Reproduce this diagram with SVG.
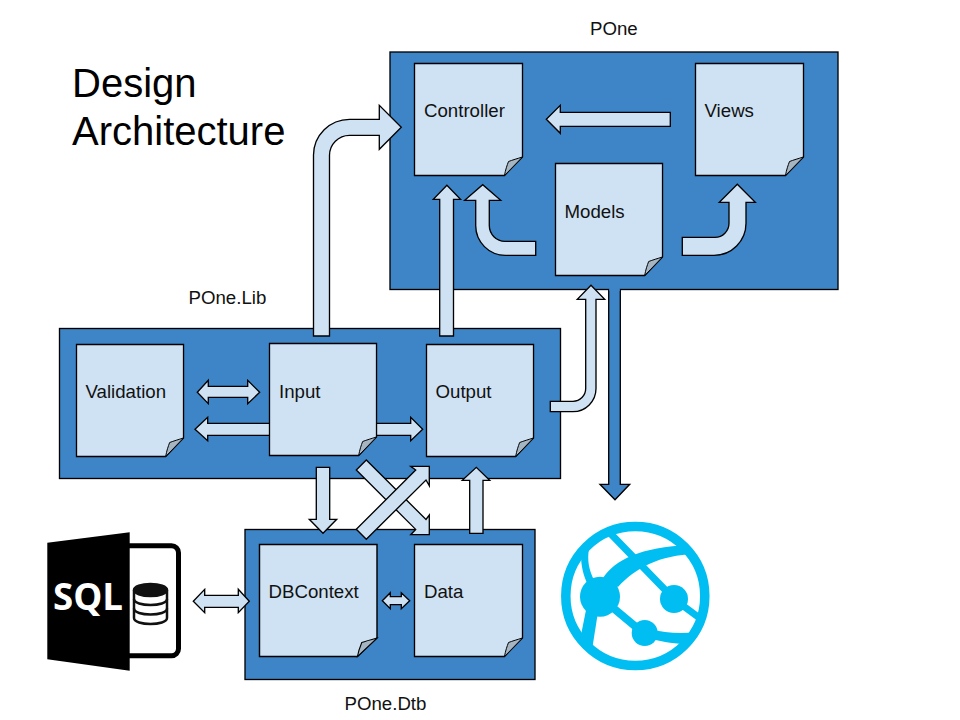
<svg xmlns="http://www.w3.org/2000/svg" width="960" height="720" viewBox="0 0 960 720">
<style>
text{font-family:"Liberation Sans",Arial,sans-serif;font-size:18.67px;fill:#111}
.title{font-size:40px;fill:#000}
.box{fill:#3d85c6;stroke:#000;stroke-width:1.33}
.doc{fill:#cfe2f3;stroke:#000;stroke-width:1.33;stroke-linejoin:miter}
.fold{fill:#a6b5c2;stroke:#000;stroke-width:1}
.arr{fill:#cfe2f3;stroke:#000;stroke-width:1.33;stroke-linejoin:miter}
.gl{fill:#00bef2;stroke:none}
.gs{fill:none;stroke:#00bef2}
</style>
<defs>
<g id="page">
<path class="doc" d="M0,0H108V93.5L90,112H0Z"/>
<path class="fold" d="M90,112C91,106 92.500,102 94,98C98,96.500 103,95 108,93.500Z"/>
</g>
<clipPath id="globeClip"><circle cx="635.300" cy="596" r="70"/></clipPath>
</defs>
<rect width="960" height="720" fill="#fff"/>
<g id="title">
<text class="title" x="72" y="97">Design</text>
<text class="title" x="72" y="145">Architecture</text>
</g>
<g id="pone-container">
<rect class="box" x="390" y="52" width="448" height="237.500"/>
<text x="590" y="35">POne</text>
</g>
<g id="polib-container">
<rect class="box" x="59.500" y="328.500" width="501" height="150"/>
<text x="188.500" y="304">POne.Lib</text>
</g>
<g id="podtb-container">
<rect class="box" x="245" y="529.500" width="290" height="150"/>
<text x="344.500" y="710">POne.Dtb</text>
</g>
<g id="connectors">
<path class="arr" d="M313.500,336V155A36,36 0 0 1 349.500,119.300H379.300V105.300L401.300,127.300L379.300,149.300V135.300H349.500A20,20 0 0 0 329.500,155.300V336Z"/>
<path class="arr" d="M439.700,336V199.300H433.300L446.900,185.300L460.500,199.300H453.500V336Z"/>
<path class="arr" d="M670.300,112.300H560.300V105.300L546.300,119.300L560.300,133.300V126.300H670.300Z"/>
<path class="arr" d="M535.700,241.300H505A15.700,15.700 0 0 1 489.300,225.600V200.300H500.700L482.700,184.700L464.700,200.300H475.700V225.600A29.700,29.700 0 0 0 505.400,255.300H535.700Z"/>
<path class="arr" d="M682.300,237.300H715A14,14 0 0 0 729,223.300V202.300H719.300L737.300,184.300L755.300,202.300H746V223.300A32,32 0 0 1 714,255.300H682.300Z"/>
<path class="arr" d="M550.300,401.300H573A12.700,12.700 0 0 0 585.700,388.600V299.300H577.300L591,285.300L604.700,299.300H596V388.600A23.100,23.100 0 0 1 572.900,411.700H550.300Z"/>
<path class="box" style="stroke-linejoin:miter" d="M608.700,289V484.300H600L615,499.700L629.700,484.300H620.300V289"/>
<path class="box" style="stroke:none" d="M609.300,287H619.700V291H609.300Z"/>
<path class="arr" d="M197.300,392.300L208.300,380.300V386.300H247.700V380.300L259.700,392.300L247.700,403.700V397.300H208.300V403.700Z"/>
<path class="arr" d="M270,423.300H207.700V417.300L195,429.300L207.700,440.700V435.300H270Z"/>
<path class="arr" d="M376,423.300H410.700V417.300L422.700,429.300L410.700,440.700V435.300H376Z"/>
<path class="arr" d="M316.300,467.300H329.700V519.300H336.700L323,533.300L309.300,519.300H316.300Z"/>
<path class="arr" d="M469.700,533.300H483V480.300H489.700L476.300,467.300L462.300,480.300H469.700Z"/>
<path class="arr" d="M356.300,470L366.300,460L426,519.500L429.300,515V534.700H410.700L415.700,529.400Z"/>
<path class="arr" d="M356.300,529.300L366.300,539.300L426,480L429.300,485.700V466.300H410.700L415.700,470Z"/>
<path class="arr" d="M193.300,601.300L204.700,589.300V595.300H238.300V589.300L249.300,601.300L238.300,612.700V607.300H204.700V612.700Z"/>
<path class="arr" d="M382.300,600.700L390.300,592.700V596.700H401.300V592.700L409.700,600.700L401.300,608.700V604.700H390.300V608.700Z"/>
</g>
<g id="controller"><use href="#page" transform="translate(414.500,63.500)"/><text x="424" y="117">Controller</text></g>
<g id="views"><use href="#page" transform="translate(695.500,63.500)"/><text x="704.500" y="117">Views</text></g>
<g id="models"><use href="#page" transform="translate(555.500,163.500) scale(.991,1)"/><text x="564.500" y="218">Models</text></g>
<g id="validation"><use href="#page" transform="translate(76.500,344.500) scale(.991,1)"/><text x="85.500" y="398">Validation</text></g>
<g id="input"><use href="#page" transform="translate(269.500,343.500) scale(.991,1)"/><text x="279" y="398">Input</text></g>
<g id="output"><use href="#page" transform="translate(426.500,344.500) scale(.991,1)"/><text x="435.500" y="398">Output</text></g>
<g id="dbcontext"><use href="#page" transform="translate(259.500,544.500) scale(1.088,1)"/><text x="268.500" y="598">DBContext</text></g>
<g id="data"><use href="#page" transform="translate(414.500,544.500)"/><text x="424" y="598">Data</text></g>
<g id="sql-icon">
<rect x="120" y="545.800" width="58.500" height="110" rx="7" fill="#fff" stroke="#000" stroke-width="5"/>
<path d="M47.300,542.700L129.700,532.300V670.700L47.300,659.300Z" fill="#000"/>
<text x="53" y="610" textLength="70" lengthAdjust="spacingAndGlyphs" style="font-family:'Open Sans','Liberation Sans',sans-serif;font-weight:700;font-size:38px;fill:#fff">SQL</text>
<g fill="none" stroke="#111" stroke-width="2.500">
<ellipse cx="150.500" cy="590" rx="16.500" ry="6" fill="#111"/>
<path d="M134,590V618C134,626 167,626 167,618V590"/>
<path d="M134,599C134,607 167,607 167,599M134,608.500C134,616.500 167,616.500 167,608.500"/>
</g>
</g>
<g id="web-icon">
<circle class="gs" cx="635.300" cy="596" r="69.500" stroke-width="9.500"/>
<g clip-path="url(#globeClip)">
<path class="gs" stroke-width="7" d="M608,531L674,599L705,622"/>
<path class="gl" d="M603,578C615,560 640,547 690,545L695,554C660,555 635,568 618,587Z"/>
<path class="gl" d="M581,555L589,549C587,560 589,570 594,580L588,585C583,575 581,565 581,555Z"/>
<path class="gl" d="M586,610L598,612L592,650L580,640Z"/>
<path class="gs" stroke-width="8" d="M612,607L642,632"/>
<path class="gl" d="M650,629C665,633 680,634 698,632L690,644C675,644 665,642 650,639Z"/>
</g>
<circle class="gl" cx="600" cy="596.700" r="20"/>
<circle class="gl" cx="674" cy="599" r="14"/>
<circle class="gl" cx="644.700" cy="633" r="13"/>
</g>
</svg>
